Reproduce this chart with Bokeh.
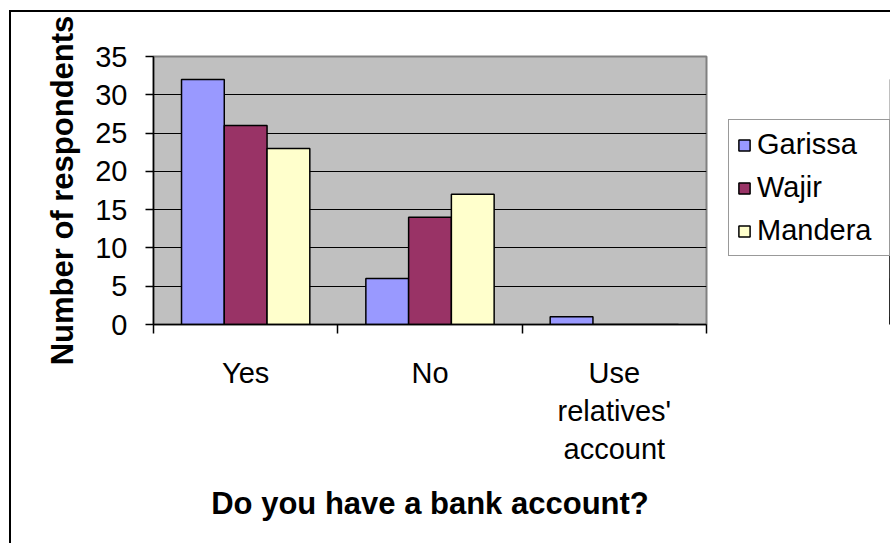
import numpy as np
from bokeh.plotting import figure
from bokeh.layouts import row
from bokeh.models import ColumnDataSource, Range1d, FixedTicker, Legend, LegendItem
from bokeh.transform import dodge
from bokeh.embed import file_html
from bokeh.resources import INLINE

# ---- data ----
categories = ["Yes", "No", "Use\nrelatives'\naccount"]
series_names = ["Garissa", "Wajir", "Mandera"]
garissa = [32, 6, 1]
wajir = [26, 14, 0]
mandera = [23, 17, 0]
colors = ["#9999FF", "#993366", "#FFFFCC"]
y_ticks = [0, 5, 10, 15, 20, 25, 30, 35]

FONT = "Liberation Sans"

centers = list(np.arange(len(categories)) + 0.5)
source = ColumnDataSource(dict(x=centers, Garissa=garissa, Wajir=wajir, Mandera=mandera))

H = 531
TOP, BOTTOM = 44, 219
p = figure(width=705, height=H, output_backend="svg", toolbar_location=None,
           x_range=Range1d(0, len(categories)), y_range=Range1d(0, 35),
           min_border_left=142, min_border_right=10, min_border_top=TOP,
           min_border_bottom=BOTTOM)
p.background_fill_color = "#C0C0C0"
p.border_fill_color = "white"
p.outline_line_color = "#808080"
p.outline_line_width = 2

bar_w = 0.232
offsets = [-bar_w, 0.0, bar_w]
for name, col, off in zip(series_names, colors, offsets):
    p.vbar(x=dodge("x", off, range=p.x_range), top=name, width=bar_w, source=source,
           fill_color=col, line_color="black", line_width=1.5)

# axes
xa = p.xaxis[0]
xa.ticker = FixedTicker(ticks=centers, minor_ticks=list(range(len(categories) + 1)))
xa.major_label_overrides = {c: lab for c, lab in zip(centers, categories)}
xa.major_tick_out = 0
xa.major_tick_in = 0
xa.minor_tick_out = 9
xa.minor_tick_in = 0
xa.minor_tick_line_color = "black"
xa.minor_tick_line_width = 1.5
xa.axis_line_color = "black"
xa.axis_line_width = 1.5
xa.major_label_text_font = FONT
xa.major_label_text_font_size = "29px"
xa.major_label_text_color = "black"
xa.major_label_standoff = 23
xa.axis_label = "Do you have a bank account?"
xa.axis_label_text_font = FONT
xa.axis_label_text_font_style = "bold"
xa.axis_label_text_font_size = "31px"
xa.axis_label_text_color = "black"
xa.axis_label_standoff = 18

ya = p.yaxis[0]
ya.ticker = FixedTicker(ticks=y_ticks)
ya.major_tick_out = 8
ya.major_tick_in = 0
ya.major_tick_line_color = "black"
ya.major_tick_line_width = 1.5
ya.minor_tick_out = 0
ya.minor_tick_in = 0
ya.axis_line_color = "black"
ya.axis_line_width = 1.5
ya.major_label_text_font = FONT
ya.major_label_text_font_size = "29px"
ya.major_label_text_color = "black"
ya.major_label_standoff = 18
ya.axis_label = "Number of respondents"
ya.axis_label_text_font = FONT
ya.axis_label_text_font_style = "bold"
ya.axis_label_text_font_size = "31px"
ya.axis_label_text_color = "black"
ya.axis_label_standoff = 12

p.xgrid.visible = False
p.ygrid.ticker = FixedTicker(ticks=y_ticks[1:-1])
p.ygrid.grid_line_color = "black"
p.ygrid.grid_line_width = 1.2

# ---- legend panel (separate figure to the right of the plot) ----
lp = figure(width=174, height=H, output_backend="svg", toolbar_location=None,
            x_range=Range1d(-10, -9), y_range=Range1d(0, 35),
            min_border_left=0, min_border_right=0, min_border_top=TOP,
            min_border_bottom=BOTTOM)
lp.axis.visible = False
lp.grid.visible = False
lp.outline_line_color = None
lp.background_fill_color = "white"
lp.border_fill_color = "white"
# key renderers share the data but lie outside this panel's visible range
key_renderers = [lp.vbar(x="x", top=name, width=bar_w, source=source,
                         fill_color=c, line_color="black", line_width=1.5)
                 for name, c in zip(series_names, colors)]
legend = Legend(items=[LegendItem(label=n, renderers=[r]) for n, r in zip(series_names, key_renderers)],
                location=(12, 68))
legend.label_text_font = FONT
legend.label_text_font_size = "29px"
legend.label_text_color = "black"
legend.glyph_width = 14
legend.glyph_height = 14
legend.label_standoff = 6
legend.label_width = 124
legend.spacing = 10
legend.padding = 8
legend.margin = 0
legend.border_line_color = "#333333"
legend.border_line_width = 1
legend.background_fill_color = "white"
legend.background_fill_alpha = 1
lp.add_layout(legend, "center")

layout = row(p, lp)
layout.styles = {"margin-left": "9px", "margin-top": "10px",
                 "border-left": "2.5px solid black", "border-top": "2.5px solid black"}

open("out.html", "w").write(file_html(layout, INLINE))
